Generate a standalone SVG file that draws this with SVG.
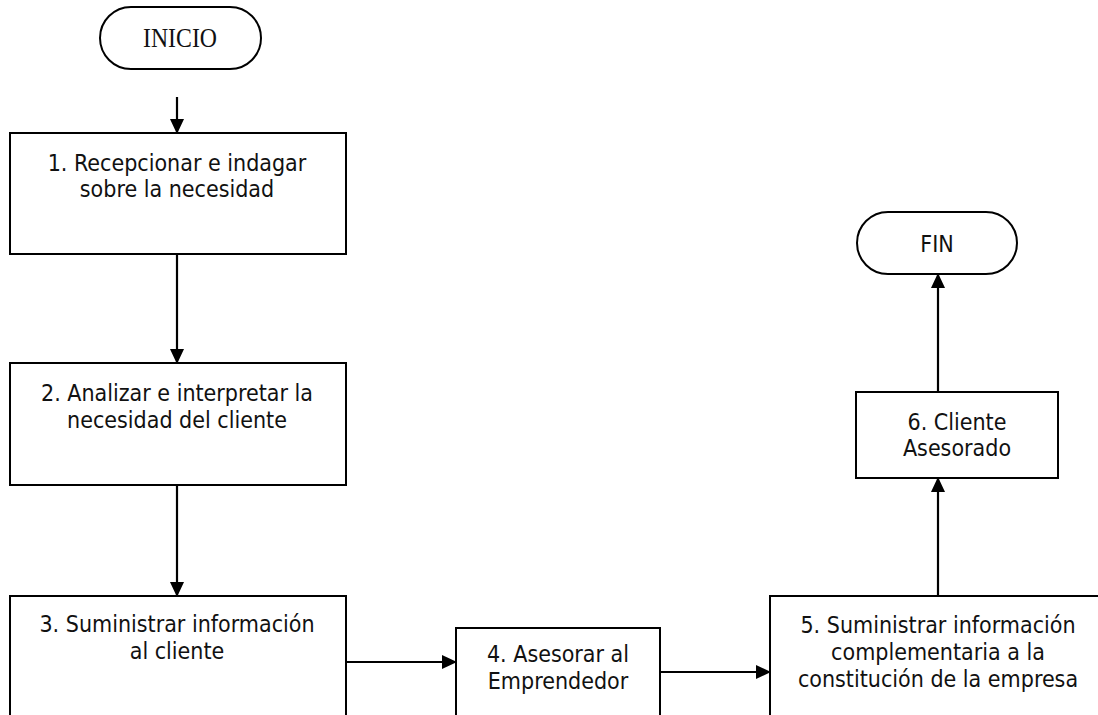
<svg xmlns="http://www.w3.org/2000/svg" width="1098" height="715" viewBox="0 0 1098 715">
<defs>
<marker id="ah" markerWidth="15" markerHeight="14" refX="14" refY="7" orient="auto" markerUnits="userSpaceOnUse">
<path d="M0,0 L15,7 L0,14 Z" fill="#000"/>
</marker>
<style>
.box{fill:#fff;stroke:#000;stroke-width:2}
.t{font-family:"DejaVu Sans Condensed","DejaVu Sans",sans-serif;font-size:23px;fill:#111;text-anchor:middle}
.ts{font-family:"Liberation Serif",serif;font-size:27px;fill:#111;text-anchor:middle}
.c{fill:none;stroke:#000;stroke-width:2.2}
</style>
</defs>
<rect width="1098" height="715" fill="#fff"/>
<g id="connectors">
<line class="c" x1="177" y1="97" x2="177" y2="133" marker-end="url(#ah)"/>
<line class="c" x1="177" y1="254" x2="177" y2="363" marker-end="url(#ah)"/>
<line class="c" x1="177" y1="485" x2="177" y2="596" marker-end="url(#ah)"/>
<line class="c" x1="346" y1="662" x2="456" y2="662" marker-end="url(#ah)"/>
<line class="c" x1="660" y1="672" x2="770" y2="672" marker-end="url(#ah)"/>
<line class="c" x1="938" y1="596" x2="938" y2="478" marker-end="url(#ah)"/>
<line class="c" x1="938" y1="392" x2="938" y2="274" marker-end="url(#ah)"/>
</g>
<g id="inicio">
<rect class="box" x="100" y="7" width="161" height="62" rx="31" ry="31"/>
<text class="ts" x="180" y="47" textLength="74" lengthAdjust="spacingAndGlyphs">INICIO</text>
</g>
<g id="n1">
<rect class="box" x="10" y="133" width="336" height="121"/>
<text class="t" x="177" y="171">1. Recepcionar e indagar</text>
<text class="t" x="177" y="197">sobre la necesidad</text>
</g>
<g id="n2">
<rect class="box" x="10" y="363" width="336" height="122"/>
<text class="t" x="177" y="401">2. Analizar e interpretar la</text>
<text class="t" x="177" y="428">necesidad del cliente</text>
</g>
<g id="n3">
<rect class="box" x="10" y="596" width="336" height="130"/>
<text class="t" x="177" y="632">3. Suministrar información</text>
<text class="t" x="177" y="659">al cliente</text>
</g>
<g id="n4">
<rect class="box" x="456" y="628" width="204" height="100"/>
<text class="t" x="558" y="662">4. Asesorar al</text>
<text class="t" x="558" y="689">Emprendedor</text>
</g>
<g id="n5">
<rect class="box" x="770" y="596" width="337" height="130"/>
<text class="t" x="938" y="633">5. Suministrar información</text>
<text class="t" x="938" y="660">complementaria a la</text>
<text class="t" x="938" y="687">constitución de la empresa</text>
</g>
<g id="n6">
<rect class="box" x="856" y="392" width="202" height="86"/>
<text class="t" x="957" y="430">6. Cliente</text>
<text class="t" x="957" y="456">Asesorado</text>
</g>
<g id="fin">
<rect class="box" x="857" y="212" width="160" height="62" rx="31" ry="31"/>
<text class="t" x="937" y="252">FIN</text>
</g>
</svg>
